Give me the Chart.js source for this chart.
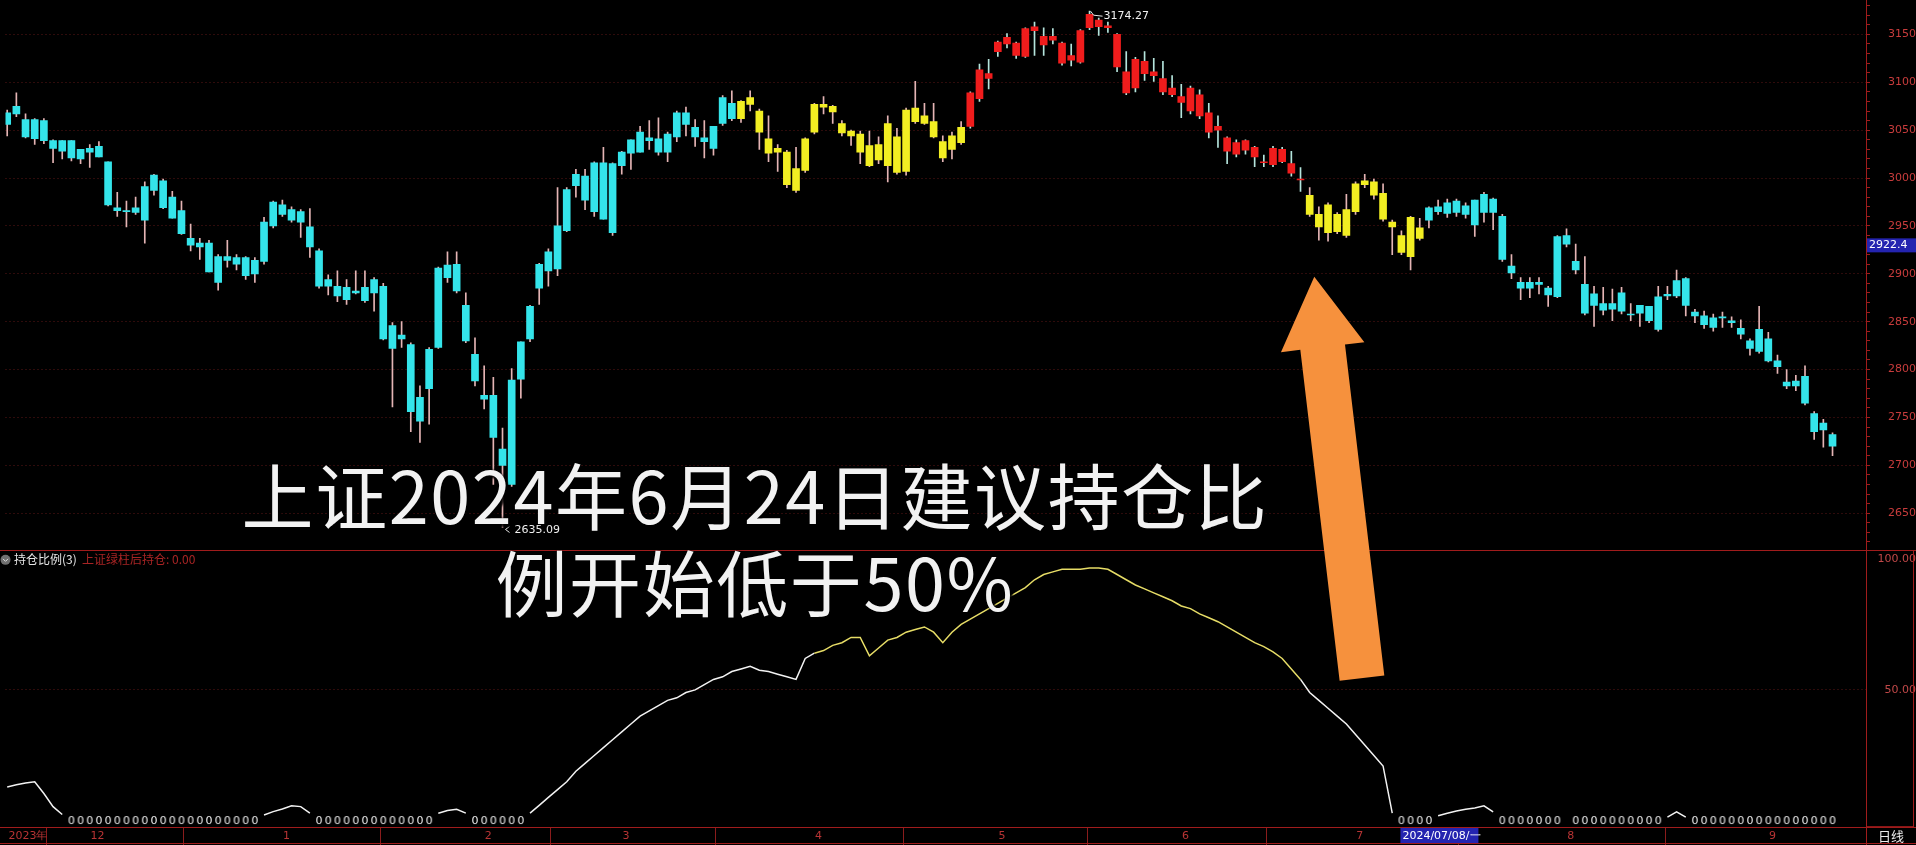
<!DOCTYPE html>
<html>
<head>
<meta charset="utf-8">
<script src="https://cdn.jsdelivr.net/npm/chart.js@4.4.1/dist/chart.umd.min.js"></script>
<style>
html, body { margin: 0; padding: 0; background: #000; overflow: hidden; }
#wrap { position: relative; width: 1916px; height: 845px; }
#note {
  position: absolute; left: 0; top: 449px; width: 1510px;
  text-align: center; color: #f2f2f2;
  font: 72px/87px "Noto Sans CJK SC", sans-serif;
  letter-spacing: 1.6px;
  text-shadow: 3px 3px 2px rgba(0,0,0,0.85), 0 0 3px #000;
  pointer-events: none;
}
</style>
</head>
<body>
<div id="wrap">
  <canvas id="c" width="1916" height="845"></canvas>
  <div id="note">上证2024年6月24日建议持仓比<br>例开始低于50%</div>
</div>
<script>
'use strict';

// trading days per month, Nov 2023 .. Sep 2024
const monthNames = ['2023年', '12', '1', '2', '3', '4', '5', '6', '7', '8', '9'];
const monthDays = [9, 21, 22, 15, 21, 20, 20, 19, 23, 22, 8];

const opens = [
  3056,3067,3061,3041,3060,3039,3028,3039,3020,3027,3033,3017,2966,2966,2964,2956,2987,2997,2980,2966,
  2937,2928,2932,2891,2918,2910,2917,2900,2913,2950,2972,2956,2965,2949,2924,2887,2887,2873,2882,2872,
  2880,2887,2822,2836,2826,2746,2780,2823,2896,2910,2867,2816,2769,2773,2717,2680,2790,2832,2885,2903,
  2905,2945,2992,3002,2965,3016,2943,3013,3026,3027,3042,3041,3027,3043,3068,3053,3042,3031,3057,3078,
  3062,3084,3070,3041,3027,3027,2987,3008,3048,3077,3075,3057,3044,3046,3013,3035,3013,3043,3007,3059,
  3057,3059,3038,3030,3037,3054,3083,3109,3132,3140,3141,3127,3154,3139,3148,3141,3123,3121,3157,3165,
  3157,3150,3111,3094,3122,3107,3104,3094,3085,3070,3087,3068,3050,3042,3025,3039,3022,3017,3014,3030,
  3015,2999,2982,2962,2943,2962,2940,2965,2993,2996,2984,2954,2940,2918,2948,2956,2965,2963,2964,2971,
  2951,2964,2978,2960,2908,2891,2885,2889,2885,2876,2940,2913,2889,2867,2869,2863,2880,2857,2859,2866,
  2842,2877,2877,2895,2860,2856,2844,2854,2851,2843,2830,2819,2832,2809,2787,2783,2793,2754,2737,2732
];
const highs = [
  3071,3089,3067,3062,3062,3040,3039,3039,3030,3035,3038,3017,2985,2976,2980,2996,3004,2999,2986,2976,
  2952,2937,2935,2920,2935,2920,2918,2917,2959,2976,2977,2970,2967,2968,2926,2899,2903,2894,2903,2903,
  2896,2890,2849,2850,2828,2783,2823,2907,2923,2923,2880,2833,2804,2792,2739,2801,2829,2867,2911,2926,
  2990,2990,3009,3009,3017,3032,3016,3028,3040,3054,3060,3063,3048,3070,3074,3061,3060,3054,3086,3091,
  3081,3091,3072,3065,3035,3029,3032,3042,3078,3085,3076,3060,3050,3049,3049,3043,3065,3052,3073,3101,
  3078,3078,3044,3048,3059,3090,3119,3124,3143,3151,3142,3157,3163,3157,3156,3142,3140,3155,3174.27,3167,
  3163,3151,3132,3126,3132,3125,3122,3107,3098,3096,3092,3078,3065,3043,3040,3040,3033,3024,3033,3032,
  3028,3011,2990,2970,2974,2964,2983,2996,3004,2999,2994,2956,2945,2960,2958,2970,2977,2978,2978,2974,
  2977,2985,2979,2962,2920,2896,2896,2896,2887,2940,2947,2931,2918,2887,2886,2884,2886,2869,2867,2866,
  2887,2887,2904,2896,2863,2861,2858,2860,2855,2852,2832,2866,2839,2815,2800,2794,2804,2756,2748,2734
];
const lows = [
  3044,3064,3042,3035,3036,3016,3020,3018,3015,3011,3022,2971,2960,2949,2962,2932,2982,2968,2958,2941,
  2924,2915,2902,2883,2907,2904,2894,2891,2910,2948,2960,2954,2938,2917,2885,2878,2871,2868,2879,2870,
  2861,2831,2761,2823,2735,2724,2743,2822,2891,2880,2828,2783,2759,2680,2635.09,2678,2770,2829,2868,2887,
  2898,2944,2980,2967,2960,2957,2940,3004,3009,3027,3030,3024,3017,3038,3044,3033,3021,3024,3055,3060,
  3058,3070,3030,3017,3007,2990,2985,3006,3046,3067,3057,3044,3034,3015,3012,3015,2996,3004,3003,3057,
  3056,3042,3017,3020,3035,3052,3080,3093,3127,3136,3125,3126,3128,3128,3140,3118,3117,3120,3155,3149,
  3152,3111,3087,3090,3102,3101,3087,3085,3063,3067,3062,3042,3032,3015,3022,3025,3012,3012,3012,3016,
  3002,2986,2960,2935,2934,2942,2938,2962,2990,2978,2955,2920,2920,2904,2935,2948,2962,2959,2960,2958,
  2939,2954,2946,2913,2895,2873,2875,2879,2866,2875,2928,2900,2857,2845,2857,2851,2858,2851,2845,2849,
  2840,2873,2875,2856,2849,2843,2840,2844,2844,2832,2815,2817,2808,2796,2780,2778,2763,2727,2719,2710
];
const closes = [
  3068,3075,3043,3061,3039,3031,3039,3021,3030,3031,3022,2972,2969,2965,2969,2991,3003,2969,2958,2942,
  2930,2932,2902,2918,2914,2917,2898,2914,2954,2975,2962,2967,2954,2928,2887,2894,2877,2886,2880,2886,
  2894,2832,2846,2832,2756,2771,2821,2906,2909,2882,2830,2788,2773,2729,2700,2789,2829,2866,2910,2923,
  2950,2988,3004,2977,3016,2957,3015,3027,3040,3048,3039,3027,3046,3068,3056,3043,3038,3054,3084,3062,
  3080,3077,3048,3026,3031,2993,3010,3041,3077,3074,3069,3047,3049,3027,3034,3019,3057,3006,3071,3073,
  3065,3043,3021,3044,3053,3089,3113,3104,3142,3147,3128,3156,3158,3148,3144,3120,3128,3154,3171,3158,
  3159,3116,3089,3124,3109,3111,3090,3087,3079,3094,3065,3048,3054,3028,3037,3029,3032,3016,3031,3017,
  3005,2998,2962,2949,2972,2944,2967,2994,2997,2982,2957,2949,2922.4,2959,2937,2969,2970,2974,2976,2962,
  2977,2983,2964,2915,2901,2885,2891,2891,2878,2939,2931,2904,2859,2879,2862,2869,2861,2857.5,2867,2851,
  2876,2878.5,2893,2867,2856,2847,2854,2855,2849,2837,2822,2842,2809,2803,2783,2788,2765,2735,2744,2720
];

// 持仓比例 (%), 0 = empty position
const holdPct = [
  13,13.8,14.5,15,10.5,5.5,2.5,
  0,0,0,0,0,0,0,0,0,0,0,0,0,0,0,0,0,0,0,0,0,
  2.3,3.6,4.6,5.8,5.5,3,
  0,0,0,0,0,0,0,0,0,0,0,0,0,
  3,4,4.5,3,
  0,0,0,0,0,0,
  3,6,9,12,15,
  19,22,25,28,31,34,37,40,42,44,
  46,47,49,50,52,54,55,57,58,59,
  57.5,57,56,55,54,62,64,65,67,68,
  70,70,63,66,69,70,72,73,74,72,
  68,72,75,77,79,81,83,85,87,89,
  92,94,95,96,96,96,96.5,96.5,96,94,
  92,90,88.5,87,85.5,84,82,81,79,77.5,
  76,74,72,70,68,66.5,64.5,62,58,54,
  49,46,43,40,37,33,29,25,21,3,
  0,0,0,0,
  2,3,3.8,4.5,5,5.8,3.5,
  0,0,0,0,0,0,0,
  1,
  0,0,0,0,0,0,0,0,0,0,
  1.5,3.5,1.5,
  0,0,0,0,0,0,0,0,0,0,0,0,0,0,0,0
];

// signal state of each candle: c = cyan, y = yellow, r = red
const stateRuns = [['c', 80], ['y', 25], ['r', 37], ['y', 13], ['c', 45]];

const cursorIdx = 152;
const cursorLabel = '2024/07/08/一';

const BODY = { c: '#34e4ea', y: '#f2ee22', r: '#f01c1c' };
const WICK = { c: '#e4b4b4', y: '#e4b4b4', r: '#b4e4dc' };
const RED = '#a01c1c';
const GRID = '#5c1616';
const lineWarm = [88, 141];
const arrowTip = { i: 142.5, price: 2897 };
const arrowTail = { i: 147.7, pct: 54.5 };

const states = [];
stateRuns.forEach(([s, n]) => { for (let k = 0; k < n; k++) states.push(s); });
const idx = closes.map((_, i) => i);

const monthTicks = [];
let acc = 0;
monthDays.forEach((n, k) => {
  monthTicks.push({ value: k === 0 ? -0.185 : acc - 0.25, label: monthNames[k] });
  acc += n;
});

// little "0" glyph used where the position is empty
const zeroGlyph = document.createElement('canvas');
zeroGlyph.width = 8; zeroGlyph.height = 12;
(() => {
  const g = zeroGlyph.getContext('2d');
  g.fillStyle = '#f0f0f0';
  g.font = '11px "DejaVu Sans"';
  g.textAlign = 'center';
  g.textBaseline = 'middle';
  g.fillText('0', 4, 6.5);
})();

Chart.defaults.font.family = '"DejaVu Sans", sans-serif';

// no label overhang padding: panes fill the canvas edge to edge
const noPad = s => { s.paddingTop = 0; s.paddingBottom = 0; s.paddingLeft = 0; s.paddingRight = 0; };

const deco = {
  id: 'deco',
  afterDraw(ch) {
    const { ctx, chartArea: a, scales: { x, y, y2 } } = ch;
    const W = ch.width, H = ch.height;
    ctx.save();
    ctx.strokeStyle = RED;
    ctx.lineWidth = 1;
    const hline = (yy, x0, x1) => { ctx.beginPath(); ctx.moveTo(x0, yy); ctx.lineTo(x1, yy); ctx.stroke(); };
    const vline = (xx, y0, y1) => { ctx.beginPath(); ctx.moveTo(xx, y0); ctx.lineTo(xx, y1); ctx.stroke(); };
    hline(Math.round(y.bottom) + 0.5, 0, W);
    hline(Math.round(a.bottom) + 0.5, 0, W);
    hline(H - 1.5, 0, W);
    vline(Math.round(a.right) + 0.5, 0, H);
    ctx.strokeRect(Math.round(a.right) + 0.5, Math.round(y2.top) + 0.5, W - a.right - 3, y2.bottom - y2.top - 1);

    // legend of the lower pane
    const ly = y2.top + 10;
    ctx.fillStyle = '#707070';
    ctx.beginPath(); ctx.arc(5.5, ly, 5, 0, Math.PI * 2); ctx.fill();
    ctx.strokeStyle = '#e0e0e0';
    ctx.beginPath(); ctx.moveTo(3, ly - 1); ctx.lineTo(5.5, ly + 1.5); ctx.lineTo(8, ly - 1); ctx.stroke();
    ctx.font = '12px "Noto Sans CJK SC"';
    ctx.textBaseline = 'middle';
    ctx.textAlign = 'left';
    ctx.fillStyle = '#e6e6e6';
    ctx.fillText('持仓比例(3)', 14, ly);
    ctx.fillStyle = '#a82424';
    ctx.fillText('上证绿柱后持仓: ' + holdPct[holdPct.length - 1].toFixed(2), 82, ly);

    // cursor price / date
    const cx = x.getPixelForValue(cursorIdx);
    const cy = y.getPixelForValue(closes[cursorIdx]);
    ctx.fillStyle = '#2424b0';
    ctx.fillRect(a.right + 1, cy - 14, W - a.right - 1, 14);
    ctx.fillRect(cx - 1, a.bottom + 1, 78, H - a.bottom - 3);
    ctx.fillStyle = '#ffffff';
    ctx.font = '11px "DejaVu Sans"';
    ctx.fillText(closes[cursorIdx].toFixed(1), a.right + 3, cy - 7);
    ctx.fillText(cursorLabel, cx + 1, (a.bottom + H) / 2);

    ctx.font = '13px "Noto Sans CJK SC"';
    ctx.textAlign = 'center';
    ctx.fillStyle = '#ececec';
    ctx.fillText('日线', (a.right + W) / 2, (a.bottom + H) / 2);

    // max / min marks
    let hi = 0, lo = 0;
    idx.forEach(i => { if (highs[i] > highs[hi]) hi = i; if (lows[i] < lows[lo]) lo = i; });
    const hx = x.getPixelForValue(hi), hy = y.getPixelForValue(highs[hi]);
    const lx = x.getPixelForValue(lo), lyy = y.getPixelForValue(lows[lo]);
    ctx.strokeStyle = '#e8e8e8';
    ctx.beginPath(); ctx.moveTo(hx + 1, hy); ctx.lineTo(hx + 4, hy + 4); ctx.lineTo(hx + 13, hy + 5); ctx.stroke();
    ctx.beginPath(); ctx.moveTo(lx + 7, lyy - 1); ctx.lineTo(lx + 3, lyy + 2); ctx.lineTo(lx + 7, lyy + 5); ctx.stroke();
    ctx.fillStyle = '#f0f0f0';
    ctx.font = '11px "DejaVu Sans"';
    ctx.textAlign = 'left';
    ctx.fillText(highs[hi].toFixed(2), hx + 14, hy + 5);
    ctx.fillText(lows[lo].toFixed(2), lx + 12, lyy + 3);

    // orange arrow
    const tx = x.getPixelForValue(arrowTip.i), ty = y.getPixelForValue(arrowTip.price);
    const bx = x.getPixelForValue(arrowTail.i), by = y2.getPixelForValue(arrowTail.pct);
    const L = Math.hypot(tx - bx, ty - by);
    const ux = (tx - bx) / L, uy = (ty - by) / L, nx = -uy, ny = ux;
    const headLen = 71, headW = 42, shaftW = 22.5;
    const hbx = tx - ux * headLen, hby = ty - uy * headLen;
    ctx.fillStyle = '#f6913d';
    ctx.beginPath();
    ctx.moveTo(bx - nx * shaftW, by - ny * shaftW);
    ctx.lineTo(hbx - nx * shaftW, hby - ny * shaftW);
    ctx.lineTo(hbx - nx * headW, hby - ny * headW);
    ctx.lineTo(tx, ty);
    ctx.lineTo(hbx + nx * headW, hby + ny * headW);
    ctx.lineTo(hbx + nx * shaftW, hby + ny * shaftW);
    ctx.lineTo(bx + nx * shaftW, by + ny * shaftW);
    ctx.closePath();
    ctx.fill();
    ctx.restore();
  }
};

const chart = new Chart(document.getElementById('c'), {
  type: 'bar',
  data: {
    datasets: [
      {
        label: 'wick',
        data: idx.map(i => ({ x: i, y: [lows[i], highs[i]] })),
        backgroundColor: c => WICK[states[c.dataIndex]],
        barThickness: 1,
        grouped: false,
        order: 3,
        yAxisID: 'y'
      },
      {
        label: 'body',
        data: idx.map(i => ({ x: i, y: [opens[i], closes[i]] })),
        backgroundColor: c => BODY[states[c.dataIndex]],
        barThickness: 7,
        minBarLength: 1,
        grouped: false,
        order: 2,
        yAxisID: 'y'
      },
      {
        type: 'line',
        label: '持仓比例',
        data: idx.map(i => ({ x: i, y: holdPct[i] })),
        yAxisID: 'y2',
        borderColor: '#f2f2f2',
        borderWidth: 1.5,
        tension: 0,
        pointStyle: c => (c.raw && c.raw.y === 0 ? zeroGlyph : 'circle'),
        pointRadius: c => (c.raw && c.raw.y === 0 ? 4 : 0),
        segment: {
          borderColor: s => {
            if (s.p0.parsed.y === 0 || s.p1.parsed.y === 0) return 'rgba(0,0,0,0)';
            return s.p0DataIndex >= lineWarm[0] && s.p0DataIndex < lineWarm[1] ? '#e6dc66' : '#f2f2f2';
          }
        },
        order: 1
      }
    ]
  },
  options: {
    responsive: false,
    devicePixelRatio: 1,
    animation: false,
    events: [],
    layout: { padding: 0 },
    plugins: { legend: { display: false }, tooltip: { enabled: false } },
    scales: {
      x: {
        type: 'linear',
        position: 'bottom',
        min: -0.185,
        max: 202.65,
        offset: false,
        afterBuildTicks: s => { s.ticks = monthTicks.map(t => ({ value: t.value })); },
        afterFit: s => { s.height = 18; noPad(s); },
        ticks: {
          autoSkip: false,
          maxRotation: 0,
          align: 'start',
          labelOffset: 3,
          padding: -15,
          color: '#b83434',
          font: { size: 11 },
          callback: (v, i) => monthTicks[i].label
        },
        grid: { drawOnChartArea: false, drawTicks: true, tickLength: 18, tickColor: '#8a1c1c', color: '#8a1c1c' },
        border: { display: true, color: RED }
      },
      y: {
        type: 'linear',
        position: 'right',
        stack: 'panes',
        stackWeight: 548,
        min: 2611.7,
        max: 3180.2,
        afterBuildTicks: s => {
          const t = [];
          for (let v = 2620; v <= 3180; v += 10) t.push({ value: v });
          s.ticks = t;
        },
        afterFit: s => { s.width = 50; noPad(s); },
        ticks: {
          autoSkip: false,
          crossAlign: 'far',
          padding: 12,
          color: '#c83c3c',
          font: { size: 11 },
          callback: v => (v % 50 === 0 ? String(v) : '')
        },
        grid: {
          color: c => (c.tick && c.tick.value % 50 === 0 ? GRID : 'rgba(0,0,0,0)'),
          tickColor: RED,
          tickLength: 4,
          drawTicks: true
        },
        border: { display: true, color: RED, dash: [1, 3] }
      },
      y2: {
        type: 'linear',
        position: 'right',
        stack: 'panes',
        stackWeight: 279,
        min: -2.27,
        max: 103.4,
        afterBuildTicks: s => { s.ticks = [{ value: 50 }, { value: 100 }]; },
        afterFit: s => { s.width = 50; noPad(s); },
        ticks: {
          autoSkip: false,
          crossAlign: 'far',
          padding: 5.5,
          color: '#c04848',
          font: { size: 11 },
          callback: v => v.toFixed(2)
        },
        grid: {
          color: c => (c.tick && c.tick.value === 50 ? GRID : 'rgba(0,0,0,0)'),
          drawTicks: false
        },
        border: { display: true, color: RED, dash: [1, 3] }
      }
    }
  },
  plugins: [deco]
});
</script>
</body>
</html>
